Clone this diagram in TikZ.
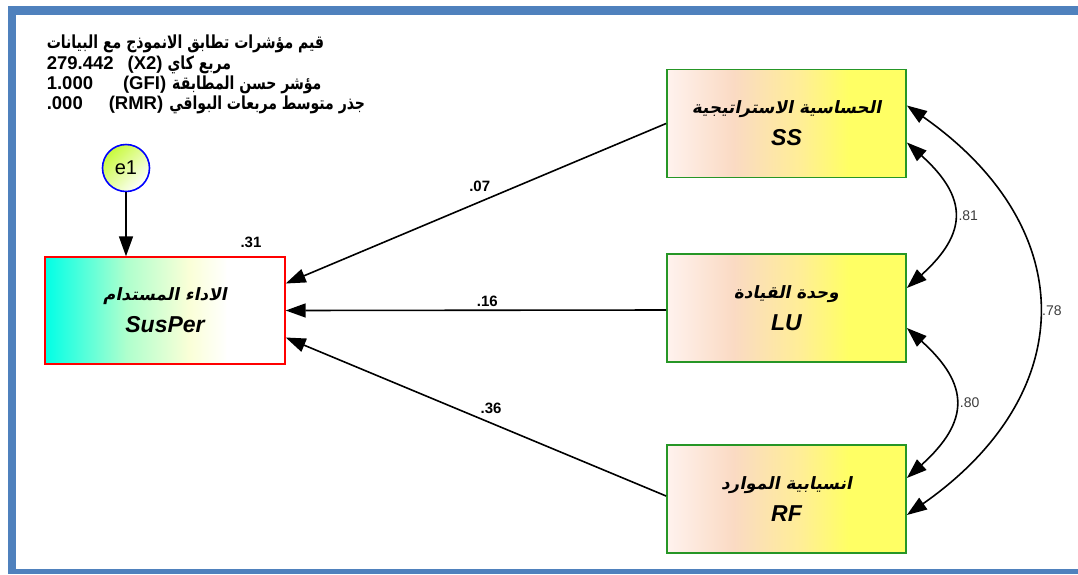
\documentclass[tikz,border=0pt]{standalone}
\usepackage{fontspec}
\setmainfont{Liberation Sans}
\newfontfamily\arabicfont[Script=Arabic,FakeStretch=0.78]{DejaVu Sans}
\newfontfamily\arabicslant[Script=Arabic,FakeSlant=0.2]{DejaVu Sans}
\TeXXeTstate=1
\usepackage{tikz}
\usetikzlibrary{arrows.meta,positioning,calc}

\definecolor{frameblue}{RGB}{79,129,189}
\definecolor{boxgreen}{RGB}{38,150,38}
\definecolor{endocyan}{RGB}{0,255,230}
\definecolor{endomint}{RGB}{175,255,205}
\definecolor{endocream}{RGB}{250,255,215}
\definecolor{exopink}{RGB}{255,242,238}
\definecolor{exopeach}{RGB}{250,218,195}
\definecolor{exolight}{RGB}{255,238,150}
\definecolor{exoyellow}{RGB}{255,255,100}
\definecolor{errgreen}{RGB}{200,250,60}
\definecolor{covgray}{RGB}{60,60,60}

\pgfdeclarehorizontalshading{endoshade}{100bp}{color(0bp)=(endocyan); color(25bp)=(endocyan); color(42bp)=(endomint); color(55bp)=(endocream); color(63bp)=(white); color(100bp)=(white)}
\pgfdeclarehorizontalshading{exoshade}{100bp}{color(0bp)=(exopink); color(25bp)=(exopink); color(39bp)=(exopeach); color(53bp)=(exolight); color(63bp)=(exoyellow); color(100bp)=(exoyellow)}

\newcommand{\varlabel}[2]{{\arabicslant\bfseries\fontsize{17}{20}\selectfont\beginR #1\endR}\\[11pt]{\fontsize{23}{23}\selectfont\bfseries\itshape #2}}
\newcommand{\arbold}[1]{{\arabicfont\bfseries\fontsize{18}{20}\selectfont\beginR #1\endR}}

\begin{document}
\begin{tikzpicture}[
    x=1pt, y=-1pt,
    endo/.style={draw=red, line width=1.4pt, shading=endoshade, minimum width=240pt, minimum height=107pt, inner sep=0pt, align=center},
    exo/.style={draw=boxgreen, line width=1.8pt, shading=exoshade, minimum width=239pt, minimum height=108pt, inner sep=0pt, align=center},
    err/.style={circle, draw=blue, line width=1.6pt, minimum size=47pt, inner sep=0pt, top color=errgreen, bottom color=white, shading angle=45, font=\fontsize{20}{20}\selectfont},
    coef/.style={font=\bfseries\fontsize{15}{16}\selectfont, inner sep=1pt},
    cov/.style={font=\fontsize{14}{16}\selectfont, text=covgray, inner sep=1pt},
    fit/.style={anchor=west, inner sep=0pt, font=\bfseries\fontsize{18.5}{20}\selectfont},
    line width=1.6pt,
    >={Triangle[length=20pt,width=14pt]}
]

\useasboundingbox (0,0) rectangle (1078,574);
\fill[frameblue] (8,6) rectangle (1078,15);
\fill[frameblue] (8,6) rectangle (16,574);
\fill[frameblue] (8,569) rectangle (1078,574);

\node[fit] (fit1) at (46,44) {\arbold{قيم مؤشرات تطابق الانموذج مع البيانات}};
\node[fit] (fit2) at (46,65) {279.442\hspace{14pt}(X2)\hspace{5pt}\arbold{مربع كاي}};
\node[fit] (fit3) at (46,85) {1.000\hspace{30pt}(GFI)\hspace{6pt}\arbold{مؤشر حسن المطابقة}};
\node[fit] (fit4) at (46,105) {.000\hspace{26pt}(RMR)\hspace{6pt}\arbold{جذر متوسط مربعات البواقي}};

\node[endo] (SusPer) at (165,310.5) {\varlabel{الاداء المستدام}{SusPer}};
\node[exo] (SS) at (786.5,123.5) {\varlabel{الحساسية الاستراتيجية}{SS}};
\node[exo] (LU) at (786.5,308) {\varlabel{وحدة القيادة}{LU}};
\node[exo] (RF) at (786.5,499) {\varlabel{انسيابية الموارد}{RF}};
\node[err] (e1) at (126,168) {e1};
\node[coef] (r2) at (251,242) {.31};

\draw[->] (e1) -- (e1 |- SusPer.north);
\draw[->] (SS.west) -- ([yshift=27pt]SusPer.east) node[coef, pos=.49, above=8pt] {.07};
\draw[->] ([yshift=-2pt]LU.west) -- (SusPer.east) node[coef, pos=.47, above=2pt] {.16};
\draw[->] ([yshift=3pt]RF.west) -- ([yshift=-27pt]SusPer.east) node[coef, pos=.46, above=8pt] {.36};

\draw[<->] ([yshift=-19pt]SS.east) to[out=-42, in=42, looseness=1.45] node[cov, right=4pt] {.81} ([yshift=20pt]LU.east);
\draw[<->] ([yshift=-20pt]LU.east) to[out=-42, in=42, looseness=1.45] node[cov, right=4pt] {.80} ([yshift=21pt]RF.east);
\draw[<->] ([yshift=18pt]SS.east) to[out=-35, in=35, looseness=1.33] node[cov, right=3pt] {.78} ([yshift=-16pt]RF.east);

\end{tikzpicture}
\end{document}
